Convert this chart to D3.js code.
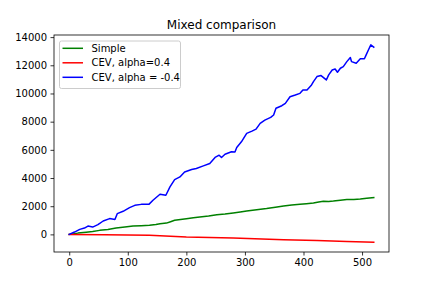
<!DOCTYPE html>
<html><head><meta charset="utf-8">
<script src="https://cdn.jsdelivr.net/npm/d3@7"></script>
<style>body{margin:0;background:#fff}svg{display:block}text{font-family:"DejaVu Sans",sans-serif}</style>
</head><body><svg id="c" width="432" height="288"></svg>
<script>
const title = "Mixed comparison";
const seriesNames = ["Simple", "CEV, alpha=0.4", "CEV, alpha = -0.4"];
const seriesColors = ["#008000", "#ff0000", "#0000ff"];
const xTicks = [0, 100, 200, 300, 400, 500];
const yTicks = [0, 2000, 4000, 6000, 8000, 10000, 12000, 14000];

const simpleX = [0, 15, 29, 40, 52, 66, 80, 95, 109, 123, 137, 148, 155, 166, 173, 180, 190, 200, 212, 223, 238, 252, 266, 280, 292, 303, 320, 337, 352, 366, 380, 394, 405, 417, 426, 434, 443, 451, 463, 474, 486, 497, 508, 520];
const simpleY = [0, 90, 160, 210, 285, 350, 450, 520, 590, 620, 640, 700, 760, 800, 900, 1000, 1060, 1110, 1180, 1230, 1310, 1400, 1450, 1520, 1590, 1660, 1750, 1830, 1930, 2010, 2090, 2135, 2180, 2230, 2300, 2350, 2340, 2370, 2430, 2470, 2480, 2510, 2560, 2610];

const cevPosX = [0, 60, 137, 200, 280, 366, 423, 474, 520];
const cevPosY = [0, -20, -70, -190, -260, -380, -430, -500, -550];

const cevNegX = [0, 9, 18, 26, 32, 40, 49, 58, 69, 78, 82, 92, 103, 112, 123, 136, 143, 155, 165, 172, 180, 189, 197, 209, 217, 229, 240, 249, 256, 260, 266, 277, 283, 286, 294, 303, 312, 319, 326, 334, 344, 349, 353, 363, 369, 377, 386, 394, 399, 406, 413, 417, 423, 430, 439, 443, 449, 454, 458, 463, 468, 474, 480, 482, 490, 497, 504, 507, 511, 515, 520];
const cevNegY = [0, 165, 355, 450, 590, 520, 690, 950, 1120, 1050, 1470, 1640, 1900, 2060, 2130, 2130, 2420, 2850, 2780, 3370, 3890, 4080, 4430, 4600, 4680, 4860, 5030, 5460, 5620, 5460, 5690, 5860, 5850, 6170, 6570, 7170, 7330, 7470, 7880, 8110, 8300, 8470, 8950, 9130, 9300, 9770, 9890, 10010, 10250, 10250, 10560, 10840, 11200, 11270, 10960, 11320, 11670, 11740, 11510, 11790, 11910, 12260, 12550, 12260, 12150, 12460, 12460, 12740, 13100, 13450, 13290];

const series = [
  {name: seriesNames[0], color: seriesColors[0], xs: simpleX, ys: simpleY},
  {name: seriesNames[1], color: seriesColors[1], xs: cevPosX, ys: cevPosY},
  {name: seriesNames[2], color: seriesColors[2], xs: cevNegX, ys: cevNegY}
];

const L = 54, R = 389, T = 35, B = 252;
const svg = d3.select("#c");

const allX = series.flatMap(s => s.xs), allY = series.flatMap(s => s.ys);
const [x0, x1] = d3.extent(allX), [y0, y1] = d3.extent(allY);
const px = (x1 - x0) * 0.05, py = (y1 - y0) * 0.05;
const x = d3.scaleLinear().domain([x0 - px, x1 + px]).range([L, R]);
const y = d3.scaleLinear().domain([y0 - py, y1 + py]).range([B, T]);

const g = svg.append("g");
svg.append("clipPath").attr("id", "clp").append("rect")
  .attr("x", L).attr("y", T).attr("width", R - L).attr("height", B - T);

const line = d3.line().x(d => x(d[0])).y(d => y(d[1]));
series.forEach(s => {
  g.append("path").datum(s.xs.map((v, i) => [v, s.ys[i]]))
    .attr("d", line).attr("fill", "none").attr("stroke", s.color)
    .attr("stroke-width", 1.5).attr("stroke-linejoin", "round").attr("stroke-linecap", "square")
    .attr("clip-path", "url(#clp)");
});

const xa = svg.append("g").attr("transform", `translate(0,${B})`)
  .call(d3.axisBottom(x).tickValues(xTicks).tickSize(3.5).tickPadding(3.5).tickFormat(d3.format("d")));
const ya = svg.append("g").attr("transform", `translate(${L},0)`)
  .call(d3.axisLeft(y).tickValues(yTicks).tickSize(3.5).tickPadding(3.5).tickFormat(d3.format("d")));
[xa, ya].forEach(a => {
  a.select(".domain").remove();
  a.selectAll(".tick line").attr("stroke", "#000").attr("stroke-width", 0.8);
  a.selectAll(".tick text").attr("fill", "#000").style("font-size", "10px").style("font-family", "DejaVu Sans");
});

svg.append("rect").attr("x", L).attr("y", T).attr("width", R - L).attr("height", B - T)
  .attr("fill", "none").attr("stroke", "#000").attr("stroke-width", 0.8);

svg.append("text").attr("x", (L + R) / 2).attr("y", 29).attr("text-anchor", "middle")
  .style("font-size", "12px").text(title);

const lg = svg.append("g");
lg.append("rect").attr("x", 59.5).attr("y", 41).attr("width", 121).attr("height", 47.5)
  .attr("rx", 2).attr("fill", "#fff").attr("fill-opacity", 0.8).attr("stroke", "#cccccc").attr("stroke-width", 1);
series.forEach((s, i) => {
  const yy = 48.3 + i * 14.5;
  lg.append("line").attr("x1", 62.5).attr("x2", 83).attr("y1", yy).attr("y2", yy)
    .attr("stroke", s.color).attr("stroke-width", 1.5);
  lg.append("text").attr("x", 91.5).attr("y", yy).attr("dy", "0.35em")
    .style("font-size", "10px").text(s.name);
});
</script></body></html>
